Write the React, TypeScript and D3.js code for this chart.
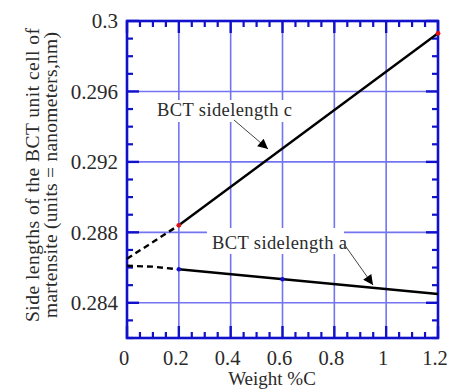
import React from 'react';
import * as d3 from 'd3';

// values
const xTicks = [0, 0.2, 0.4, 0.6, 0.8, 1, 1.2];
const xTickLabels = ['0', '0.2', '0.4', '0.6', '0.8', '1', '1.2'];
const yTicks = [0.284, 0.288, 0.292, 0.296, 0.3];
const yTickLabels = ['0.284', '0.288', '0.292', '0.296', '0.3'];

const cDashedX = [0, 0.2];
const cDashedY = [0.2865, 0.2884];
const cSolidX = [0.2, 1.2];
const cSolidY = [0.2884, 0.2993];

const aDashedX = [0, 0.1, 0.2];
const aDashedY = [0.2861, 0.28605, 0.2859];
const aSolidX = [0.2, 1.2];
const aSolidY = [0.2859, 0.2845];

const redDotX = [0.2, 1.2];
const redDotY = [0.2884, 0.2993];
const blueDotX = [0.2, 0.6];
const blueDotY = [0.2859, 0.28534];

const W = 452,
  H = 390;
const left = 127,
  right = 438,
  top = 21,
  bottom = 338;

const FONT = '"Liberation Serif", "Times New Roman", serif';
const frameColor = '#1111cc';
const gridColor = '#7474f2';
const textColor = '#2a2a2a';

const App = () => {
  const x = d3.scaleLinear().domain([0, 1.2]).range([left, right]);
  const y = d3.scaleLinear().domain([0.282, 0.3]).range([bottom, top]);

  const line = d3
    .line<number>()
    .x((d) => d[0])
    .y((d) => d[1]);
  const path = (xs: number[], ys: number[]) =>
    line(xs.map((v, i) => [x(v), y(ys[i])]) as any) || '';

  const xMinor = d3.range(0, 1.2001, 0.05).filter((v) => Math.abs(Math.round(v * 5) - v * 5) > 1e-6);
  const yMinor = d3.range(0.282, 0.30001, 0.001).filter((v) => Math.abs(Math.round(v * 250) - v * 250) > 1e-6);
  const xGrid = xTicks.filter((v) => v > 0 && v < 1.2);
  const yGrid = yTicks.filter((v) => v < 0.3);

  const major = 12,
    minor = 6;

  return (
    <svg
      width={W}
      height={H}
      style={{ position: 'absolute', left: 0, top: 0, background: '#fff' }}
      fontFamily={FONT}
    >
      <defs>
        <marker id="arr" viewBox="0 0 10 10" refX="10" refY="5" markerWidth="13" markerHeight="10" orient="auto" markerUnits="userSpaceOnUse">
          <path d="M0,0 L10,5 L0,10 z" fill="#000" />
        </marker>
      </defs>

      {/* grid */}
      {xGrid.map((v) => (
        <line key={'gx' + v} x1={x(v)} x2={x(v)} y1={top} y2={bottom} stroke={gridColor} strokeWidth={1.6} />
      ))}
      {yGrid.map((v) => (
        <line key={'gy' + v} x1={left} x2={right} y1={y(v)} y2={y(v)} stroke={gridColor} strokeWidth={1.6} />
      ))}

      {/* label boxes hide the grid */}
      <rect x={150} y={100} width={148} height={22} fill="#fff" />
      <rect x={207} y={228} width={137} height={26} fill="#fff" />

      {/* ticks, inward on all four sides */}
      {xTicks.map((v) => (
        <g key={'tx' + v} stroke={frameColor} strokeWidth={2.4}>
          <line x1={x(v)} x2={x(v)} y1={bottom} y2={bottom - major} />
          <line x1={x(v)} x2={x(v)} y1={top} y2={top + major} />
        </g>
      ))}
      {xMinor.map((v) => (
        <g key={'mx' + v} stroke={frameColor} strokeWidth={2.2}>
          <line x1={x(v)} x2={x(v)} y1={bottom} y2={bottom - minor} />
          <line x1={x(v)} x2={x(v)} y1={top} y2={top + minor} />
        </g>
      ))}
      {yTicks.map((v) => (
        <g key={'ty' + v} stroke={frameColor} strokeWidth={2.4}>
          <line x1={left} x2={left + major} y1={y(v)} y2={y(v)} />
          <line x1={right} x2={right - major} y1={y(v)} y2={y(v)} />
        </g>
      ))}
      {yMinor.map((v) => (
        <g key={'my' + v} stroke={frameColor} strokeWidth={2.2}>
          <line x1={left} x2={left + minor} y1={y(v)} y2={y(v)} />
          <line x1={right} x2={right - minor} y1={y(v)} y2={y(v)} />
        </g>
      ))}
      <rect x={left} y={top} width={right - left} height={bottom - top} fill="none" stroke={frameColor} strokeWidth={2.6} />

      {/* data */}
      <path d={path(cDashedX, cDashedY)} fill="none" stroke="#000" strokeWidth={2.4} strokeDasharray="6,4" />
      <path d={path(aDashedX, aDashedY)} fill="none" stroke="#000" strokeWidth={2.4} strokeDasharray="6,4" />
      <path d={path(cSolidX, cSolidY)} fill="none" stroke="#000" strokeWidth={2.4} />
      <path d={path(aSolidX, aSolidY)} fill="none" stroke="#000" strokeWidth={2.4} />
      {redDotX.map((v, i) => (
        <circle key={'r' + i} cx={x(v)} cy={y(redDotY[i])} r={2.4} fill="#e01010" />
      ))}
      {blueDotX.map((v, i) => (
        <circle key={'b' + i} cx={x(v)} cy={y(blueDotY[i])} r={2.2} fill="#1010d0" />
      ))}

      {/* annotations */}
      <text x={157} y={116} fontSize={18.5} fill={textColor} textLength={135}>
        BCT sidelength c
      </text>
      <line x1={234} y1={120} x2={268} y2={149} stroke="#444" strokeWidth={1} markerEnd="url(#arr)" />
      <text x={212} y={249} fontSize={18.5} fill={textColor} textLength={135}>
        BCT sidelength a
      </text>
      <line x1={344} y1={244} x2={373} y2={285} stroke="#444" strokeWidth={1} markerEnd="url(#arr)" />

      {/* tick labels */}
      {xTicks.map((v, i) => (
        <text key={'lx' + v} x={x(v) - 3} y={365} fontSize={20.5} textAnchor="middle" fill={textColor}>
          {xTickLabels[i]}
        </text>
      ))}
      {yTicks.map((v, i) => (
        <text key={'ly' + v} x={118} y={y(v)} dy="0.35em" fontSize={21} textAnchor="end" fill={textColor}>
          {yTickLabels[i]}
        </text>
      ))}

      {/* axis titles */}
      <text x={272} y={385} fontSize={19} textAnchor="middle" fill={textColor}>
        Weight %C
      </text>
      <text transform="translate(39,175) rotate(-90)" fontSize={19.5} textAnchor="middle" fill={textColor} textLength={294}>
        Side lengths of the BCT unit cell of
      </text>
      <text transform="translate(57,175) rotate(-90)" fontSize={19.5} textAnchor="middle" fill={textColor} textLength={286}>
        martensite (units = nanometers,nm)
      </text>
    </svg>
  );
};

export default App;
